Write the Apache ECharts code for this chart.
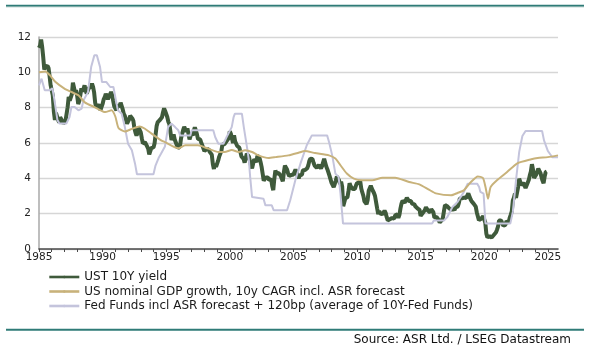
<!DOCTYPE html>
<html>
<head>
<meta charset="utf-8">
<script src="https://cdn.jsdelivr.net/npm/echarts@6/dist/echarts.min.js"></script>
<style>
html,body{margin:0;padding:0;background:#fff;}
#c{width:589px;height:355px;}
</style>
</head>
<body>
<div id="c"></div>
<script>
// UST 10Y yield, monthly from Jan 1985
const ustStartYear = 1985;
const ust10y = [
11.38,11.51,11.86,11.43,10.85,10.16,10.31,10.33,10.37,10.24,9.78,9.26,
9.19,8.70,7.78,7.30,7.71,7.80,7.30,7.17,7.45,7.43,7.25,7.11,
7.08,7.25,7.25,8.02,8.61,8.40,8.45,8.76,9.42,9.52,8.86,8.99,
8.67,8.21,8.37,8.72,9.09,8.92,9.06,9.26,8.98,8.80,8.96,9.11,
9.09,9.17,9.36,9.18,8.86,8.28,8.02,8.11,8.19,8.01,7.87,7.84,
8.21,8.47,8.59,8.79,8.76,8.48,8.47,8.75,8.89,8.72,8.39,8.08,
8.09,7.85,8.11,8.04,8.07,8.28,8.27,7.90,7.65,7.53,7.42,7.09,
7.03,7.34,7.54,7.48,7.39,7.26,6.84,6.59,6.42,6.59,6.87,6.77,
6.60,6.26,5.98,5.97,6.04,5.96,5.81,5.68,5.36,5.33,5.72,5.77,
5.75,5.97,6.48,6.97,7.18,7.10,7.30,7.24,7.46,7.74,7.96,7.81,
7.78,7.47,7.20,7.06,6.63,6.17,6.28,6.49,6.20,6.04,5.93,5.71,
5.65,5.81,6.27,6.51,6.74,6.91,6.87,6.64,6.83,6.53,6.20,6.30,
6.58,6.42,6.69,6.89,6.71,6.49,6.22,6.30,6.21,6.03,5.88,5.81,
5.54,5.57,5.65,5.64,5.65,5.50,5.46,5.34,4.81,4.53,4.83,4.65,
4.72,5.00,5.23,5.18,5.54,5.90,5.79,5.94,5.92,6.11,6.03,6.28,
6.66,6.52,6.26,5.99,6.44,6.10,6.05,5.83,5.80,5.74,5.72,5.24,
5.16,5.10,4.89,5.14,5.39,5.28,5.24,4.97,4.73,4.57,4.65,5.09,
5.04,4.91,5.28,5.21,5.16,4.93,4.65,4.26,3.87,3.94,4.05,4.03,
4.05,3.90,3.81,3.96,3.57,3.33,3.98,4.45,4.27,4.29,4.30,4.27,
4.15,4.08,3.83,4.35,4.72,4.73,4.50,4.28,4.13,4.10,4.19,4.23,
4.22,4.17,4.50,4.34,4.14,4.00,4.18,4.26,4.20,4.46,4.54,4.47,
4.42,4.57,4.72,4.99,5.11,5.11,5.09,4.88,4.72,4.73,4.60,4.56,
4.76,4.72,4.56,4.69,4.75,5.10,5.00,4.67,4.52,4.53,4.15,4.10,
3.74,3.74,3.51,3.68,3.88,4.10,4.01,3.89,3.69,3.81,3.53,2.42,
2.52,2.87,2.82,2.93,3.29,3.72,3.56,3.59,3.40,3.39,3.40,3.59,
3.73,3.69,3.73,3.85,3.42,3.20,3.01,2.70,2.65,2.54,2.76,3.29,
3.39,3.58,3.41,3.46,3.17,3.00,3.00,2.30,1.98,2.15,2.01,1.98,
1.97,1.97,2.17,2.05,1.80,1.62,1.53,1.68,1.72,1.75,1.65,1.72,
1.91,1.98,1.96,1.76,1.93,2.30,2.58,2.74,2.81,2.62,2.72,2.90,
2.86,2.71,2.72,2.71,2.56,2.60,2.54,2.42,2.53,2.30,2.33,2.21,
1.88,1.98,2.04,1.94,2.20,2.36,2.32,2.17,2.17,2.07,2.26,2.24,
2.09,1.78,1.89,1.81,1.81,1.64,1.50,1.56,1.63,1.76,2.14,2.49,
2.43,2.42,2.48,2.30,2.30,2.19,2.32,2.21,2.20,2.36,2.35,2.40,
2.58,2.86,2.84,2.87,2.98,2.91,2.89,2.89,3.00,3.15,3.12,2.83,
2.71,2.68,2.57,2.53,2.40,2.07,2.06,1.63,1.70,1.71,1.81,1.86,
1.76,1.50,0.87,0.66,0.67,0.73,0.62,0.65,0.68,0.79,0.87,0.93,
1.08,1.26,1.61,1.64,1.62,1.52,1.32,1.28,1.37,1.58,1.56,1.47,
1.76,1.93,2.13,2.75,2.90,3.14,2.90,2.90,3.52,3.98,3.89,3.62,
3.53,3.75,3.66,3.46,3.57,3.75,3.90,4.17,4.38,4.80,4.50,4.02,
4.06,4.21,4.21,4.54,4.48,4.31,4.25,3.87,3.72,4.10,4.36,4.39
];

// US nominal GDP growth, 10y CAGR incl. ASR forecast
const gdpYears = [1985.0,1985.5,1985.9,1986.3,1987.0,1987.5,1988.1,1988.6,1989.4,1990.2,1990.7,1991.0,1991.25,1991.75,1992.3,1992.9,1993.3,1993.85,1994.6,1994.9,1995.95,1996.5,1997.5,1998.3,1999.1,1999.6,2000.15,2000.7,2001.2,2001.75,2002.25,2003.05,2003.6,2004.6,2005.4,2005.9,2006.7,2007.8,2008.3,2008.7,2009.2,2009.75,2010.4,2011.2,2012.0,2013.0,2014.1,2014.9,2015.65,2016.2,2017.4,2017.9,2018.4,2018.9,2019.5,2019.9,2020.1,2020.3,2020.5,2021.0,2021.8,2022.6,2023.7,2024.2,2025.0,2025.8];
const gdpValues = [10.0,10.05,9.8,9.45,9.08,8.9,8.7,8.3,8.02,7.75,7.85,7.5,6.85,6.65,6.8,6.94,6.82,6.53,6.15,6.05,5.7,5.87,5.87,5.68,5.49,5.49,5.6,5.49,5.59,5.49,5.3,5.15,5.2,5.3,5.45,5.55,5.43,5.3,5.12,4.74,4.27,3.98,3.89,3.89,4.04,4.04,3.79,3.66,3.36,3.15,3.04,3.17,3.32,3.75,4.11,4.02,3.51,2.85,3.5,3.89,4.36,4.85,5.08,5.15,5.2,5.3];

// Fed Funds incl ASR forecast + 120bp
const fedYears = [1985.0,1985.2,1985.45,1985.85,1986.05,1986.2,1986.45,1986.6,1987.15,1987.4,1987.55,1987.8,1988.1,1988.35,1988.5,1988.85,1989.1,1989.35,1989.55,1989.8,1989.95,1990.3,1990.6,1990.85,1991.0,1991.2,1991.5,1991.75,1992.0,1992.3,1992.55,1992.7,1994.0,1994.15,1994.4,1994.6,1994.9,1995.15,1995.4,1995.7,1995.95,1996.1,1996.9,1997.0,1998.7,1998.85,1999.1,1999.5,1999.75,2000.15,2000.3,2000.4,2000.95,2001.1,2001.35,2001.5,2001.6,2001.75,2001.85,2002.65,2002.8,2003.3,2003.45,2004.5,2004.75,2005.15,2005.55,2006.05,2006.45,2007.65,2007.8,2008.05,2008.3,2008.55,2008.7,2008.8,2008.9,2015.9,2016.05,2016.85,2017.1,2017.5,2017.9,2018.4,2018.7,2019.45,2019.6,2019.7,2019.95,2020.1,2022.05,2022.25,2022.5,2022.75,2023.0,2023.25,2024.55,2024.7,2025.0,2025.2,2025.35,2025.8];
const fedValues = [9.26,9.64,8.98,8.98,9.1,8.5,7.3,7.1,7.1,7.47,8.04,8.04,7.85,7.95,8.42,8.88,10.3,10.96,10.96,10.3,9.45,9.45,9.17,9.17,8.6,7.85,7.66,6.9,5.96,5.59,4.83,4.23,4.23,4.7,5.15,5.4,5.8,6.9,7.1,6.9,6.72,6.43,6.43,6.72,6.72,6.34,5.96,5.96,6.34,6.9,7.47,7.66,7.66,6.9,5.77,5.02,4.08,2.94,2.85,2.85,2.47,2.47,2.19,2.19,2.76,3.89,4.83,5.87,6.43,6.43,6.06,5.3,4.27,4.08,3.13,2.28,1.44,1.44,1.62,1.62,1.81,2.38,2.66,3.23,3.7,3.7,3.51,3.23,3.13,1.44,1.44,2.1,3.9,5.5,6.4,6.68,6.68,6.15,5.55,5.35,5.2,5.2];

const seriesNames = [
  'UST 10Y yield',
  'US nominal GDP growth, 10y CAGR incl. ASR forecast',
  'Fed Funds incl ASR forecast + 120bp (average of 10Y-Fed Funds)'
];
const sourceText = 'Source: ASR Ltd. / LSEG Datastream';

const ustData = ust10y.map((v, i) => [ustStartYear + i / 12, v]);
const gdpData = gdpYears.map((y, i) => [y, gdpValues[i]]);
const fedData = fedYears.map((y, i) => [y, fedValues[i]]);

const chart = echarts.init(document.getElementById('c'), null, {renderer: 'canvas'});
const FONT = '"DejaVu Sans", Verdana, sans-serif';
chart.setOption({
  animation: false,
  backgroundColor: '#ffffff',
  grid: {left: 39, right: 31, top: 37, bottom: 106, containLabel: false, outerBoundsMode: 'none'},
  xAxis: {
    type: 'value', min: 1985, max: 2025.8, interval: 1,
    axisLine: {show: true, lineStyle: {color: '#4a4a4a', width: 1.6}},
    axisTick: {show: true, length: 3, lineStyle: {color: '#4a4a4a', width: 1}},
    splitLine: {show: false},
    axisLabel: {
      color: '#222', fontFamily: FONT, fontSize: 10.5, margin: 3, showMaxLabel: false,
      formatter: v => (Math.abs(Math.round(v) - v) < 1e-6 && Math.round(v) % 5 === 0) ? String(Math.round(v)) : ''
    }
  },
  yAxis: {
    type: 'value', min: 0, max: 12, interval: 2,
    axisLine: {show: true, lineStyle: {color: '#a8a8a8', width: 1.5}},
    axisTick: {show: false},
    splitLine: {show: true, lineStyle: {color: '#d6d6d6', width: 1.3}},
    axisLabel: {color: '#222', fontFamily: FONT, fontSize: 10.5, margin: 8}
  },
  legend: {
    orient: 'vertical', left: 43, top: 265, itemWidth: 30, itemHeight: 3, itemGap: 0.5,
    selectedMode: false,
    lineStyle: {width: 2.6},
    textStyle: {color: '#1a1a1a', fontFamily: FONT, fontSize: 12, lineHeight: 14},
    data: seriesNames
  },
  series: [
    {name: seriesNames[0], type: 'line', data: ustData, showSymbol: false, symbol: 'none',
     color: '#3f5a3b', lineStyle: {width: 4, color: '#3f5a3b'}, z: 2},
    {name: seriesNames[2], type: 'line', data: fedData, showSymbol: false, symbol: 'none',
     color: '#c4c4dc', lineStyle: {width: 2, color: '#c4c4dc'}, z: 3},
    {name: seriesNames[1], type: 'line', data: gdpData, showSymbol: false, symbol: 'none', smooth: 0.2,
     color: '#c8b27a', lineStyle: {width: 2, color: '#c8b27a'}, z: 4}
  ],
  graphic: [
    {type: 'rect', shape: {x: 6, y: 4.7, width: 578, height: 2}, style: {fill: '#2f7b77'}, silent: true},
    {type: 'rect', shape: {x: 6, y: 6.7, width: 578, height: 0.8}, style: {fill: '#c9d9d8'}, silent: true},
    {type: 'rect', shape: {x: 6, y: 328.8, width: 578, height: 2}, style: {fill: '#2f7b77'}, silent: true},
    {type: 'text', right: 18, top: 334, style: {text: sourceText, fill: '#111', font: '12px ' + FONT}, silent: true}
  ]
});
</script>
</body>
</html>
